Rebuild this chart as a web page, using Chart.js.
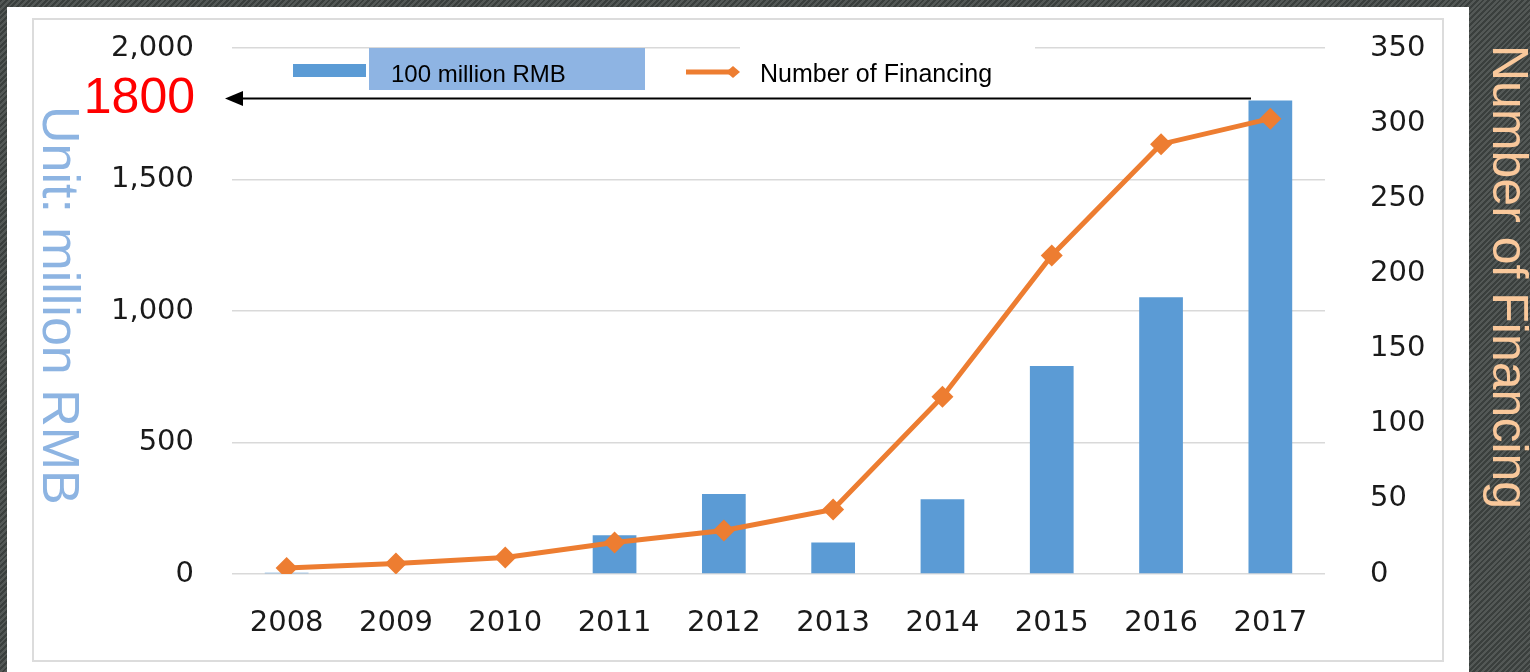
<!DOCTYPE html>
<html><head><meta charset="utf-8">
<script src="https://cdn.jsdelivr.net/npm/chart.js@4.4.1/dist/chart.umd.min.js"></script>
<style>
html,body{margin:0;padding:0;width:1530px;height:672px;overflow:hidden;}
body{position:relative;background:repeating-linear-gradient(135deg,#3a3f3d 0px,#3a3f3d 2px,#535856 2px,#535856 4px);}
#panel{position:absolute;left:7px;top:7px;width:1462px;height:680px;background:#fff;}
#frame{position:absolute;left:32px;top:18px;width:1408px;height:640px;border:2px solid #dcdcdc;}
canvas{position:absolute;left:0;top:0;}
.vt{position:absolute;transform-origin:0 0;transform:rotate(90deg);white-space:nowrap;font-family:'Liberation Sans',Arial,sans-serif;}
#ltitle{left:87px;top:106px;font-size:52px;line-height:52px;color:#8db4e2;}
#rtitle{left:1535px;top:45px;font-size:50px;line-height:50px;color:#f9c89b;}
</style></head>
<body>
<div id="panel"></div>
<div id="frame"></div>
<div class="vt" id="ltitle">Unit: million RMB</div>
<div class="vt" id="rtitle">Number of Financing</div>
<canvas id="c" width="1530" height="672"></canvas>
<script>
const years = ['2008','2009','2010','2011','2012','2013','2014','2015','2016','2017'];
const amountRMB = [5, 0, 0, 147, 304, 120, 284, 791, 1052, 1800];
const financingCount = [4, 7, 11, 21, 29, 43, 118, 212, 286, 303];
const leftTicks = [0, 500, 1000, 1500, 2000];
const rightTicks = [0, 50, 100, 150, 200, 250, 300, 350];
const seriesNames = ['100 million RMB', 'Number of Financing'];
const annotationValue = 1800;
const annotationText = '1800';

const tickFont = {family: '"DejaVu Sans", Verdana, sans-serif', size: 29};
const ARIAL = '"Liberation Sans", Arial, sans-serif';

const overlay = {
  id: 'overlay',
  afterDraw(chart) {
    const ctx = chart.ctx;
    const ys = chart.scales.y;
    ctx.save();
    ctx.fillStyle = '#ffffff';
    ctx.fillRect(740, 44, 295, 9);
    ctx.fillStyle = '#8eb4e3';
    ctx.fillRect(369, 48, 276, 42);
    ctx.fillStyle = '#5b9bd5';
    ctx.fillRect(293, 64, 73, 13);
    ctx.fillStyle = '#000';
    ctx.font = '24px ' + ARIAL;
    ctx.textBaseline = 'middle';
    ctx.textAlign = 'left';
    ctx.fillText(seriesNames[0], 391, 75);
    ctx.strokeStyle = '#ed7d31';
    ctx.lineWidth = 5;
    ctx.beginPath(); ctx.moveTo(686, 72); ctx.lineTo(730, 72); ctx.stroke();
    ctx.fillStyle = '#ed7d31';
    ctx.beginPath();
    ctx.moveTo(726, 72); ctx.lineTo(733, 66); ctx.lineTo(740, 72); ctx.lineTo(733, 78); ctx.closePath(); ctx.fill();
    ctx.fillStyle = '#000';
    ctx.font = '25px ' + ARIAL;
    ctx.fillText(seriesNames[1], 760, 75);
    const ay = ys.getPixelForValue(annotationValue) - 2;
    ctx.strokeStyle = '#000';
    ctx.lineWidth = 2;
    ctx.beginPath(); ctx.moveTo(1251, ay); ctx.lineTo(240, ay); ctx.stroke();
    ctx.fillStyle = '#000';
    ctx.beginPath(); ctx.moveTo(225, ay); ctx.lineTo(243, ay - 7.5); ctx.lineTo(243, ay + 7.5); ctx.closePath(); ctx.fill();
    ctx.fillStyle = '#ff0000';
    ctx.font = '50px ' + ARIAL;
    ctx.textAlign = 'right';
    ctx.fillText(annotationText, 195, ay + 1);
    ctx.restore();
  }
};

new Chart(document.getElementById('c'), {
  data: {
    labels: years,
    datasets: [
      {type: 'line', label: seriesNames[1], data: financingCount, yAxisID: 'y1',
       borderColor: '#ed7d31', backgroundColor: '#ed7d31', borderWidth: 5,
       pointStyle: 'rectRot', pointRadius: 11, pointBorderWidth: 0, tension: 0, order: 0},
      {type: 'bar', label: seriesNames[0], data: amountRMB, yAxisID: 'y',
       backgroundColor: '#5b9bd5', categoryPercentage: 0.8, barPercentage: 0.5, order: 1}
    ]
  },
  options: {
    responsive: false, animation: false, devicePixelRatio: 1,
    layout: {autoPadding: false, padding: {top: 48, left: 0, right: 0, bottom: 0}},
    plugins: {legend: {display: false}, tooltip: {enabled: false}},
    scales: {
      x: {grid: {display: false}, border: {display: false},
          ticks: {color: '#1a1a1a', font: tickFont, padding: 24, maxRotation: 0, autoSkip: false},
          afterFit(s) { s.height = 98; s.paddingLeft = 0; s.paddingRight = 0; }},
      y: {position: 'left', min: 0, max: 2000,
          afterBuildTicks(s) { s.ticks = leftTicks.map(v => ({value: v})); },
          ticks: {color: '#1a1a1a', font: tickFont, padding: 38, callback: v => v.toLocaleString('en-US')},
          grid: {color: '#d9d9d9', lineWidth: 1.5, drawTicks: false}, border: {display: false},
          afterFit(s) { s.width = 232; s.paddingTop = 0; s.paddingBottom = 0; }},
      y1: {position: 'right', min: 0, max: 350,
           afterBuildTicks(s) { s.ticks = rightTicks.map(v => ({value: v})); },
           ticks: {color: '#1a1a1a', font: tickFont, padding: 37},
           grid: {display: false}, border: {display: false},
           afterFit(s) { s.width = 205; s.paddingTop = 0; s.paddingBottom = 0; }}
    }
  },
  plugins: [overlay]
});
</script>
</body></html>
